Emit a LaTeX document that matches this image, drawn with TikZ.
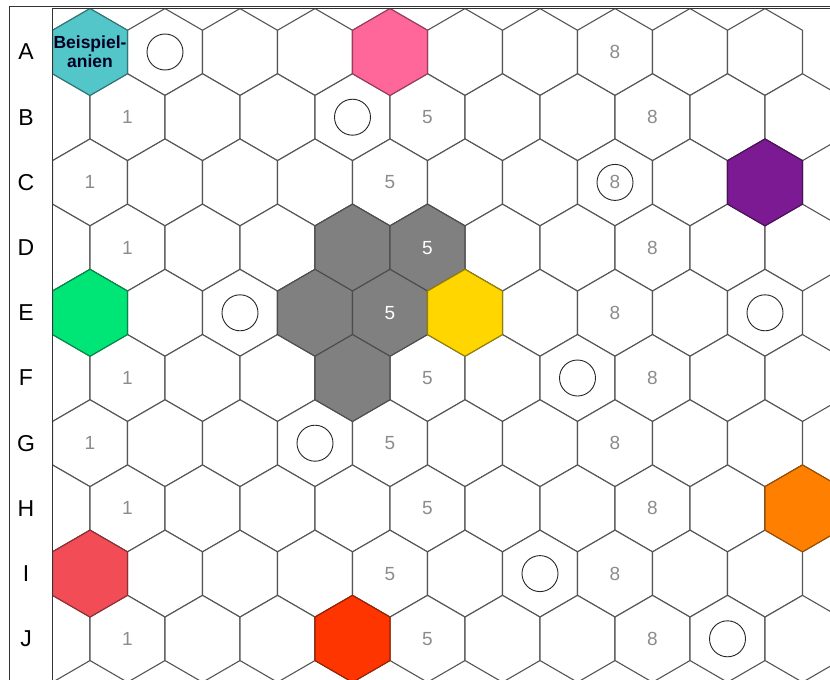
\documentclass[tikz,border=0pt]{standalone}
\usepackage{fontspec}
\setmainfont{Liberation Sans}
\definecolor{gridline}{HTML}{555555}
\definecolor{numgrey}{HTML}{8C8C8C}
\definecolor{tealc}{HTML}{52C6C8}
\definecolor{pinkc}{HTML}{FF6699}
\definecolor{purplec}{HTML}{7B1A92}
\definecolor{greenc}{HTML}{00E676}
\definecolor{greyc}{HTML}{808080}
\definecolor{yellowc}{HTML}{FFD600}
\definecolor{orangec}{HTML}{FF8000}
\definecolor{coralc}{HTML}{F24D57}
\definecolor{redc}{HTML}{FF3500}
\begin{document}
\begin{tikzpicture}[x=1pt, y=-1pt]
\tikzset{
  hex/.pic={\draw[gridline, line width=1.1pt, fill=white] (0,-43.45) -- (37.5,-21.73) -- (37.5,21.73) -- (0,43.45) -- (-37.5,21.73) -- (-37.5,-21.73) -- cycle;},
  tile/.pic={\draw[#1!60!black, line width=1.1pt, fill=#1] (0,-43.45) -- (37.5,-21.73) -- (37.5,21.73) -- (0,43.45) -- (-37.5,21.73) -- (-37.5,-21.73) -- cycle;},
  ring/.style={draw=black!85, circle, minimum size=36pt, inner sep=0pt, line width=0.9pt},
  num/.style={text=numgrey, font=\fontsize{19}{19}\selectfont},
  rowlab/.style={font=\fontsize{23}{23}\selectfont}
}
\useasboundingbox (0,0) rectangle (830,680);

% board
\begin{scope}
\clip (52,8) rectangle (830,680);
\foreach \r [count=\i from 0] in {A,B,C,D,E,F,G,H,I,J} {
  \pgfmathsetmacro\yy{52+65.2*\i}
  \pgfmathsetmacro\xs{mod(\i,2)==0 ? 90 : 52.5}
  \pgfmathtruncatemacro\kmax{mod(\i,2)==0 ? 9 : 10}
  \foreach \k in {0,...,\kmax} {
    \coordinate (\r\k) at ({\xs+75*\k},\yy);
    \pic at (\r\k) {hex};
  }
}
\pic at (A0) {tile=tealc};
\pic at (A4) {tile=pinkc};
\pic at (C9) {tile=purplec};
\pic at (D4) {tile=greyc};
\pic at (D5) {tile=greyc};
\pic at (E0) {tile=greenc};
\pic at (E3) {tile=greyc};
\pic at (E4) {tile=greyc};
\pic at (E5) {tile=yellowc};
\pic at (F4) {tile=greyc};
\pic at (H10) {tile=orangec};
\pic at (I0) {tile=coralc};
\pic at (J4) {tile=redc};
\end{scope}

% row letters
\foreach \r [count=\i from 0] in {A,B,C,D,E,F,G,H,I,J}
  \node[rowlab] (lab\r) at (26,{52+65.2*\i}) {\r};

\node[font=\bfseries\fontsize{17.5}{19}\selectfont, align=center, text=black!85!blue] (beispiel) at (A0) {Beispiel-\\anien};

% rings
\foreach \c in {A1,B4,C7,E2,E9,F7,G3,I6,J9}
  \node[ring] (ring\c) at (\c) {};

% numbers
\foreach \c in {B1,C0,D1,F1,G0,H1,J1}
  \node[num] (one\c) at (\c) {1};
\foreach \c in {B5,C4,F5,G4,H5,I4,J5}
  \node[num] (five\c) at (\c) {5};
\node[num, text=white] (fiveD5) at (D5) {5};
\node[num, text=white] (fiveE4) at (E4) {5};
\foreach \c in {A7,B8,C7,D8,E7,F8,G7,H8,I7,J8}
  \node[num] (eight\c) at (\c) {8};

% frame
\draw[black!80, line width=0.9pt] (9,680) -- (9,6) -- (830,6);
\draw[black!80, line width=0.7pt] (52,680) -- (52,8.3) -- (830,8.3);
\end{tikzpicture}
\end{document}
